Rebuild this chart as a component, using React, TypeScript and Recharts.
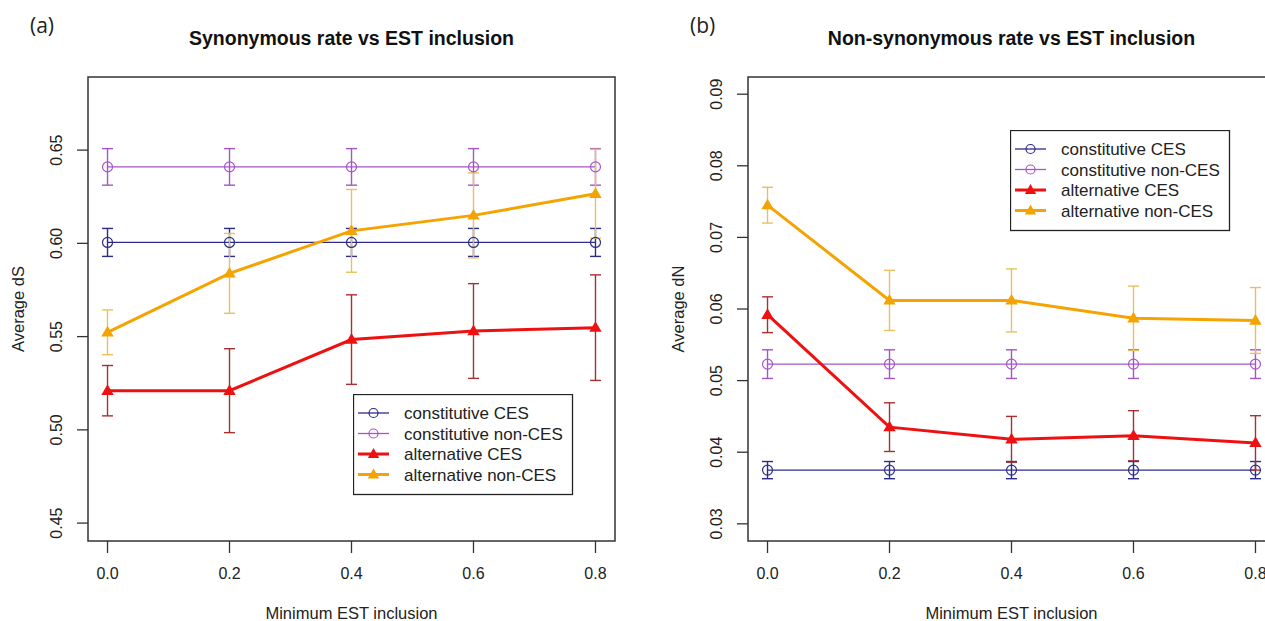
import { LineChart, Line, XAxis, YAxis, ErrorBar, ReferenceArea } from "recharts";

const FONT = '"Liberation Sans", Arial, sans-serif';

// shared x values (minimum EST inclusion)
const minEst = [0, 0.2, 0.4, 0.6, 0.8];
const xTicks = [0, 0.2, 0.4, 0.6, 0.8];
const xTickLabels = ["0.0", "0.2", "0.4", "0.6", "0.8"];

const seriesNames = ["constitutive CES", "constitutive non-CES", "alternative CES", "alternative non-CES"];

// (a) average dS
const dsConstCes = [0.6005, 0.6005, 0.6005, 0.6005, 0.6005];
const dsConstCesErr = [0.0075, 0.0075, 0.0075, 0.0075, 0.0075];
const dsConstNon = [0.641, 0.641, 0.641, 0.641, 0.641];
const dsConstNonErr = [0.0098, 0.0098, 0.0098, 0.0098, 0.0098];
const dsAltCes = [0.521, 0.521, 0.5484, 0.553, 0.5548];
const dsAltCesErr = [0.0135, 0.0225, 0.024, 0.0254, 0.0283];
const dsAltNon = [0.5523, 0.5839, 0.6067, 0.615, 0.6266];
const dsAltNonErr = [0.012, 0.0214, 0.0222, 0.0228, 0.0238];
const dsTicks = [0.45, 0.5, 0.55, 0.6, 0.65];
const dsTickLabels = ["0.45", "0.50", "0.55", "0.60", "0.65"];

// (b) average dN
const dnConstCes = [0.0375, 0.0375, 0.0375, 0.0375, 0.0375];
const dnConstCesErr = [0.0012, 0.0012, 0.0012, 0.0012, 0.0012];
const dnConstNon = [0.0523, 0.0523, 0.0523, 0.0523, 0.0523];
const dnConstNonErr = [0.002, 0.002, 0.002, 0.002, 0.002];
const dnAltCes = [0.0592, 0.0435, 0.0418, 0.0423, 0.0413];
const dnAltCesErr = [0.0025, 0.0034, 0.0032, 0.0035, 0.0038];
const dnAltNon = [0.0745, 0.0612, 0.0612, 0.0587, 0.0584];
const dnAltNonErr = [0.0025, 0.0042, 0.0044, 0.0045, 0.0046];
const dnTicks = [0.03, 0.04, 0.05, 0.06, 0.07, 0.08, 0.09];
const dnTickLabels = ["0.03", "0.04", "0.05", "0.06", "0.07", "0.08", "0.09"];

const colors = ["#2c2c8c", "#a455c8", "#ee1111", "#f4a300"];
const errColors = ["#2c2c8c", "#a455c8", "#a83030", "#e8c060"];

const X_DOMAIN = [-0.032, 0.832];

function buildRows(vals: number[][], errs: number[][]) {
  return minEst.map((x, i) => ({
    x,
    s0: vals[0][i], e0: errs[0][i],
    s1: vals[1][i], e1: errs[1][i],
    s2: vals[2][i], e2: errs[2][i],
    s3: vals[3][i], e3: errs[3][i],
  }));
}

const triangleDot = (color: string) => (props: any) => {
  const { cx, cy, index } = props;
  if (cx == null || cy == null) return <g key={index} />;
  return (
    <path
      key={index}
      d={`M${cx},${cy - 6.5} L${cx + 6.2},${cy + 4.2} L${cx - 6.2},${cy + 4.2} Z`}
      fill={color}
    />
  );
};

function XTick(props: any) {
  const { x, y, index } = props;
  return (
    <text x={x} y={y + 25.5} textAnchor="middle" fontSize={16} fill="#222" fontFamily={FONT}>
      {xTickLabels[index]}
    </text>
  );
}

const makeYTick = (labels: string[]) => (props: any) => {
  const { x, y, index } = props;
  const cx = x - 20.5;
  return (
    <text
      x={cx}
      y={y}
      dy="0.36em"
      transform={`rotate(-90 ${cx} ${y})`}
      textAnchor="middle"
      fontSize={16}
      fill="#222"
      fontFamily={FONT}
    >
      {labels[index]}
    </text>
  );
};

function Legend({ left, top }: { left: number; top: number }) {
  const rows = [19, 39.5, 60, 80.5];
  return (
    <svg width={221} height={102} style={{ position: "absolute", left, top }}>
      <rect x={0.5} y={0.5} width={219} height={100} fill="#fff" stroke="#222" strokeWidth={1.3} />
      {seriesNames.map((name, i) => {
        const cy = rows[i];
        const alt = i >= 2;
        return (
          <g key={name}>
            <line x1={5} x2={36} y1={cy} y2={cy} stroke={colors[i]} strokeWidth={alt ? 3 : 1.3} />
            {alt ? (
              <path d={`M20.5,${cy - 6} L26.2,${cy + 4} L14.8,${cy + 4} Z`} fill={colors[i]} />
            ) : (
              <circle cx={20.5} cy={cy} r={4.5} fill="none" stroke={colors[i]} strokeWidth={1.2} />
            )}
            <text x={51} y={cy + 6} fontSize={17} fill="#222" fontFamily={FONT}>
              {name}
            </text>
          </g>
        );
      })}
    </svg>
  );
}

function Panel(props: {
  left: number;
  tag: string;
  title: string;
  yLabel: string;
  rows: any[];
  yDomain: number[];
  yTicks: number[];
  yTickLabels: string[];
  legendLeft: number;
  legendTop: number;
}) {
  const { left, tag, title, yLabel, rows, yDomain, yTicks, yTickLabels, legendLeft, legendTop } = props;
  const plotCx = 88 + 527 / 2;
  return (
    <div style={{ position: "absolute", left, top: 0, width: 640, height: 621 }}>
      <LineChart width={640} height={621} data={rows} margin={{ top: 77, right: 25, left: 0, bottom: 40 }}>
        <XAxis
          type="number"
          dataKey="x"
          domain={X_DOMAIN}
          ticks={xTicks}
          interval={0}
          allowDataOverflow
          height={40}
          tickSize={12}
          tickMargin={0}
          axisLine={false}
          tickLine={{ stroke: "#333", strokeWidth: 1.3 }}
          tick={<XTick />}
        />
        <YAxis
          type="number"
          domain={yDomain}
          ticks={yTicks}
          interval={0}
          allowDataOverflow
          width={88}
          tickSize={11}
          tickMargin={0}
          axisLine={false}
          tickLine={{ stroke: "#333", strokeWidth: 1.3 }}
          tick={makeYTick(yTickLabels)}
        />
        <ReferenceArea
          x1={X_DOMAIN[0]}
          x2={X_DOMAIN[1]}
          y1={yDomain[0]}
          y2={yDomain[1]}
          fill="none"
          fillOpacity={0}
          stroke="#333"
          strokeWidth={1.5}
          ifOverflow="visible"
        />
        {[0, 1, 2, 3].map((i) => (
          <Line
            key={i}
            type="linear"
            dataKey={`s${i}`}
            stroke={colors[i]}
            strokeWidth={i >= 2 ? 3 : 1.3}
            dot={i >= 2 ? triangleDot(colors[i]) : { r: 5, fill: "none", stroke: colors[i], strokeWidth: 1.2 }}
            activeDot={false}
            isAnimationActive={false}
          >
            <ErrorBar
              dataKey={`e${i}`}
              direction="y"
              width={5.5}
              stroke={errColors[i]}
              strokeWidth={1.4}
              isAnimationActive={false}
            />
          </Line>
        ))}
      </LineChart>
      <svg width={640} height={621} style={{ position: "absolute", left: 0, top: 0, pointerEvents: "none" }}>
        <text x={30} y={33} fontSize={21} fill="#222" fontFamily='"Open Sans", sans-serif'>
          {tag}
        </text>
        <text x={plotCx} y={45} textAnchor="middle" fontSize={19.5} fontWeight="bold" fill="#111" fontFamily={FONT}>
          {title}
        </text>
        <text
          x={19}
          y={309}
          dy="0.3em"
          transform="rotate(-90 19 309)"
          textAnchor="middle"
          fontSize={16.5}
          fill="#222"
          fontFamily={FONT}
        >
          {yLabel}
        </text>
        <text x={plotCx} y={619} textAnchor="middle" fontSize={16.5} fill="#222" fontFamily={FONT}>
          Minimum EST inclusion
        </text>
      </svg>
      <Legend left={legendLeft} top={legendTop} />
    </div>
  );
}

export default function App() {
  const dsRows = buildRows(
    [dsConstCes, dsConstNon, dsAltCes, dsAltNon],
    [dsConstCesErr, dsConstNonErr, dsAltCesErr, dsAltNonErr]
  );
  const dnRows = buildRows(
    [dnConstCes, dnConstNon, dnAltCes, dnAltNon],
    [dnConstCesErr, dnConstNonErr, dnAltCesErr, dnAltNonErr]
  );
  return (
    <div
      style={{
        position: "absolute",
        left: 0,
        top: 0,
        width: 1265,
        height: 621,
        overflow: "hidden",
        background: "#fff",
      }}
    >
      <Panel
        left={0}
        tag="(a)"
        title="Synonymous rate vs EST inclusion"
        yLabel="Average dS"
        rows={dsRows}
        yDomain={[0.4404, 0.6892]}
        yTicks={dsTicks}
        yTickLabels={dsTickLabels}
        legendLeft={353}
        legendTop={394}
      />
      <Panel
        left={660}
        tag="(b)"
        title="Non-synonymous rate vs EST inclusion"
        yLabel="Average dN"
        rows={dnRows}
        yDomain={[0.0276, 0.0924]}
        yTicks={dnTicks}
        yTickLabels={dnTickLabels}
        legendLeft={350}
        legendTop={130}
      />
    </div>
  );
}
